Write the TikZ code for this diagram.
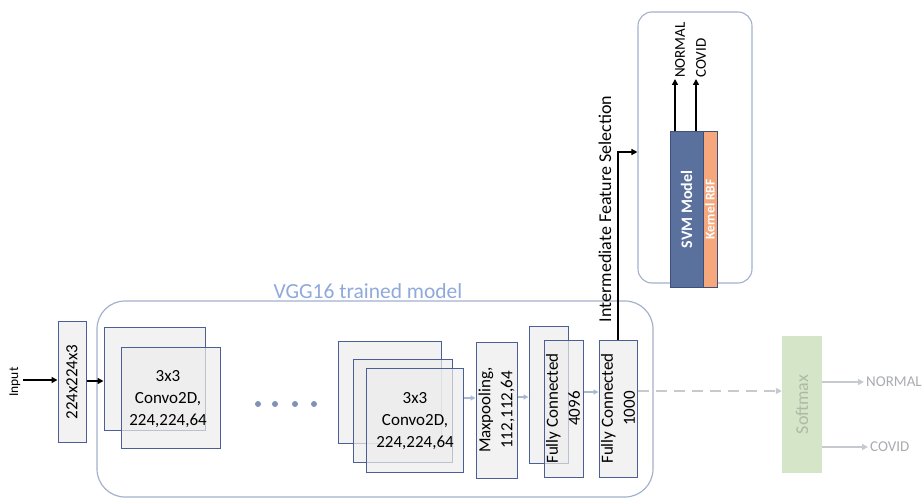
\documentclass[tikz,border=0pt]{standalone}
\usepackage{fontspec}
\setmainfont{Carlito}
\usetikzlibrary{arrows.meta}
\definecolor{edge}{HTML}{4B5F96}
\definecolor{boxfill}{HTML}{ECECEC}
\definecolor{pale}{HTML}{A9B8D2}
\definecolor{titleblue}{HTML}{8FA9DB}
\definecolor{framecol}{HTML}{A3B1CC}
\definecolor{svmblue}{HTML}{5A719E}
\definecolor{svmedge}{HTML}{3E4F7A}
\definecolor{rbf}{HTML}{F6A77B}
\definecolor{softgreen}{HTML}{D5E6C8}
\definecolor{softtext}{HTML}{AEB9A6}
\definecolor{ghost}{HTML}{C6C9CE}
\definecolor{dotcol}{HTML}{7F93B8}
\tikzset{
  layer/.style={draw=edge, fill=boxfill, fill opacity=0.7, line width=1pt, inner sep=0pt},
  rot/.style={rotate=90, align=center, font=\fontsize{17}{22}\selectfont},
  blackarrow/.style={draw=black, line width=1.6pt, -{Triangle[length=6pt,width=6pt]}},
  palearrow/.style={draw=pale, line width=1.4pt, -{Triangle[length=5pt,width=5pt]}},
  ghostarrow/.style={draw=ghost, line width=1.5pt, -{Triangle[length=6pt,width=6pt]}},
  ghostdash/.style={draw=ghost, line width=1.6pt, dash pattern=on 11pt off 7pt, -{Triangle[length=6pt,width=6pt]}},
}
\begin{document}
\begin{tikzpicture}[x=1pt, y=-1pt, font=\fontsize{17}{22}\selectfont]
\useasboundingbox (0,0) rectangle (924,500);

% VGG16 frame and its title
\node[draw=framecol, line width=1.2pt, rounded corners=28pt, inner sep=0pt,
      minimum width=556, minimum height=196] (vgg) at (375,399) {};
\node[text=titleblue, font=\fontsize{21.5}{24}\selectfont] (vggtitle) at (368,291) {VGG16 trained model};

% input
\node[rotate=90, font=\fontsize{13.5}{15}\selectfont] (inlabel) at (15,382) {Input};
\coordinate (instart) at (23,380);
\node[layer, minimum width=28, minimum height=121] (inbox) at (72,382) {};
\node[rot] (intext) at (inbox) {224x224x3};

% first convolution stack
\node[layer, minimum width=101, minimum height=103] (conv1a) at (154.5,378.5) {};
\node[layer, minimum width=99, minimum height=101] (conv1b) at (170.5,397.5) {};
\node[align=center] (conv1t) at (168,399) {3x3\\Convo2D,\\224,224,64};

% ellipsis dots
\foreach \i/\x in {1/258,2/275,3/295,4/314}
  \node[circle, fill=dotcol, minimum size=6pt, inner sep=0pt] (dot\i) at (\x,404) {};

% second convolution stack
\node[layer, minimum width=103, minimum height=102] (conv2a) at (389.5,392) {};
\node[layer, minimum width=99, minimum height=103] (conv2b) at (402.5,410.5) {};
\node[layer, minimum width=97, minimum height=104] (conv2c) at (414.5,420) {};
\node[align=center] (conv2t) at (415,421) {3x3\\Convo2D,\\224,224,64};

% pooling and dense layers
\node[layer, minimum width=41, minimum height=136] (pool) at (496.5,410) {};
\node[rot] (poolt) at (pool) {Maxpooling,\\112,112,64};
\node[layer, minimum width=39, minimum height=137] (fc4a) at (548.5,394.5) {};
\node[layer, minimum width=39, minimum height=137] (fc4b) at (563.5,408.5) {};
\node[rot] (fc4t) at (563,408.5) {Fully Connected\\4096};
\node[layer, minimum width=38, minimum height=137] (fc1) at (618,408.5) {};
\node[rot] (fc1t) at (fc1) {Fully Connected\\1000};

% softmax head
\node[fill=softgreen, inner sep=0pt, minimum width=40, minimum height=137] (soft) at (802,404.5) {};
\node[rot, text=softtext, font=\fontsize{18}{20}\selectfont] (softt) at (soft) {Softmax};
\node[anchor=west, inner sep=2pt, text=ghost!85!black, font=\fontsize{15}{17}\selectfont] (softN) at (864,382) {NORMAL};
\node[anchor=west, inner sep=2pt, text=ghost!85!black, font=\fontsize{15}{17}\selectfont] (softC) at (868,447) {COVID};

% SVM classifier
\node[draw=framecol, line width=1.1pt, rounded corners=14pt, inner sep=0pt,
      minimum width=114, minimum height=271] (svmframe) at (695,147.5) {};
\node[fill=svmblue, draw=svmedge, line width=1pt, inner sep=0pt,
      minimum width=33, minimum height=155] (svm) at (686.5,209.5) {};
\node[rot, text=white, font=\bfseries\fontsize{16}{18}\selectfont] (svmt) at (svm) {SVM Model};
\node[fill=rbf, draw=svmedge, line width=1pt, inner sep=0pt,
      minimum width=14, minimum height=155] (kernel) at (710,209.5) {};
\node[rot, text=white, font=\bfseries\fontsize{13.5}{15}\selectfont] (kernelt) at (kernel) {Kernel RBF};
\node[rotate=90, anchor=west, inner sep=1pt, font=\fontsize{15}{17}\selectfont] (svmN) at (680,79) {NORMAL};
\node[rotate=90, anchor=west, inner sep=1pt, font=\fontsize{15}{17}\selectfont] (svmC) at (701,79) {COVID};

\node[rotate=90, font=\fontsize{18}{20}\selectfont] (ifs) at (605,209) {Intermediate Feature Selection};

% connectors
\draw[blackarrow] (instart) -- (instart -| inbox.west);
\draw[blackarrow] (inbox.east |- 0,381) -- (conv1a.west |- 0,381);
\draw[palearrow] (conv2c.east |- 0,398) -- (pool.west |- 0,398);
\draw[palearrow] (pool.east |- 0,397) -- (fc4a.west |- 0,397);
\draw[palearrow] (fc4b.east |- 0,392) -- (fc1.west |- 0,392);
\draw[ghostdash] (fc1.east |- 0,391) -- (soft.west |- 0,391);
\draw[ghostarrow] (soft.east |- softN) -- (softN.west);
\draw[ghostarrow] (soft.east |- softC) -- (softC.west);
\draw[blackarrow] (fc1.north) |- (svmframe.west |- 0,152);
\draw[blackarrow] (svm.north -| 675,0) -- (svmN.west -| 675,0);
\draw[blackarrow] (svm.north -| 696,0) -- (svmC.west -| 696,0);
\end{tikzpicture}
\end{document}
